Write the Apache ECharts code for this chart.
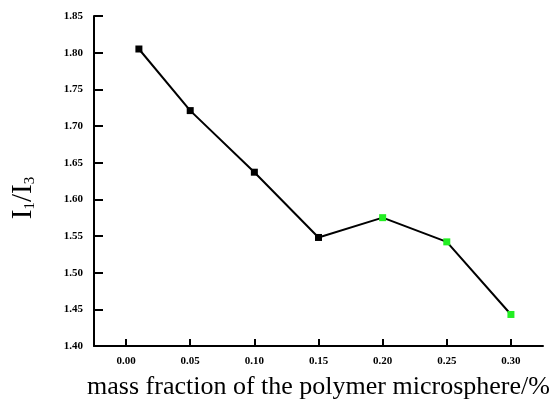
<!DOCTYPE html>
<html>
<head>
<meta charset="utf-8">
<script src="https://cdn.jsdelivr.net/npm/echarts@6/dist/echarts.min.js"></script>
<style>
  html, body { margin: 0; padding: 0; background: #fff; }
  #main { width: 554px; height: 405px; }
</style>
</head>
<body>
<div id="main"></div>
<script>
// values
var massFraction = [0.01, 0.05, 0.10, 0.15, 0.20, 0.25, 0.30]
var ratioI1I3 = [1.805, 1.721, 1.637, 1.548, 1.575, 1.542, 1.443]
var markerColors = ['#000000', '#000000', '#000000', '#000000', '#22ee22', '#22ee22', '#22ee22']
var xTicks = [0, 0.05, 0.10, 0.15, 0.20, 0.25, 0.30]

var chart = echarts.init(document.getElementById('main'))

var points = massFraction.map(function (x, i) {
  return { value: [x, ratioI1I3[i]], itemStyle: { color: markerColors[i] } }
})

var serif = '"Liberation Serif", "DejaVu Serif", serif'

var option = {
  animation: false,
  grid: { left: 94, right: 11, top: 16, bottom: 59, outerBoundsMode: 'none' },
  xAxis: {
    type: 'value',
    min: -0.025,
    max: 0.325,
    name: 'mass fraction of the polymer microsphere/%',
    nameLocation: 'middle',
    nameGap: 28,
    nameTextStyle: { fontFamily: serif, fontSize: 26, color: '#000' },
    axisLine: { show: true, onZero: false, lineStyle: { color: '#000', width: 2 } },
    axisTick: { show: true, inside: true, length: 7, lineStyle: { color: '#000', width: 2 }, customValues: xTicks },
    axisLabel: {
      customValues: xTicks,
      color: '#000', fontFamily: serif, fontSize: 11, fontWeight: 'bold', margin: 10,
      formatter: function (v) { return v.toFixed(2) }
    },
    splitLine: { show: false }
  },
  yAxis: {
    type: 'value',
    min: 1.40,
    max: 1.85,
    interval: 0.05,
    name: 'I{s|1}/I{s|3}',
    nameLocation: 'middle',
    nameRotate: 90,
    nameGap: 56,
    nameTextStyle: {
      fontFamily: serif, fontSize: 29, color: '#000',
      padding: [0, 34, 0, 0],
      rich: { s: { fontFamily: serif, fontSize: 15, color: '#000', verticalAlign: 'bottom', padding: [14, 0, 0, 0] } }
    },
    axisLine: { show: true, onZero: false, lineStyle: { color: '#000', width: 2 } },
    axisTick: { show: true, inside: true, length: 9, lineStyle: { color: '#000', width: 2 } },
    axisLabel: {
      color: '#000', fontFamily: serif, fontSize: 11, fontWeight: 'bold', margin: 11,
      formatter: function (v) { return v.toFixed(2) }
    },
    splitLine: { show: false }
  },
  series: [
    {
      type: 'line',
      data: points,
      symbol: 'rect',
      symbolSize: 7,
      lineStyle: { color: '#000', width: 2 },
      itemStyle: { borderWidth: 0 }
    }
  ]
}

chart.setOption(option)
window.addEventListener('resize', function () {
  chart.resize()
})
</script>
</body>
</html>
